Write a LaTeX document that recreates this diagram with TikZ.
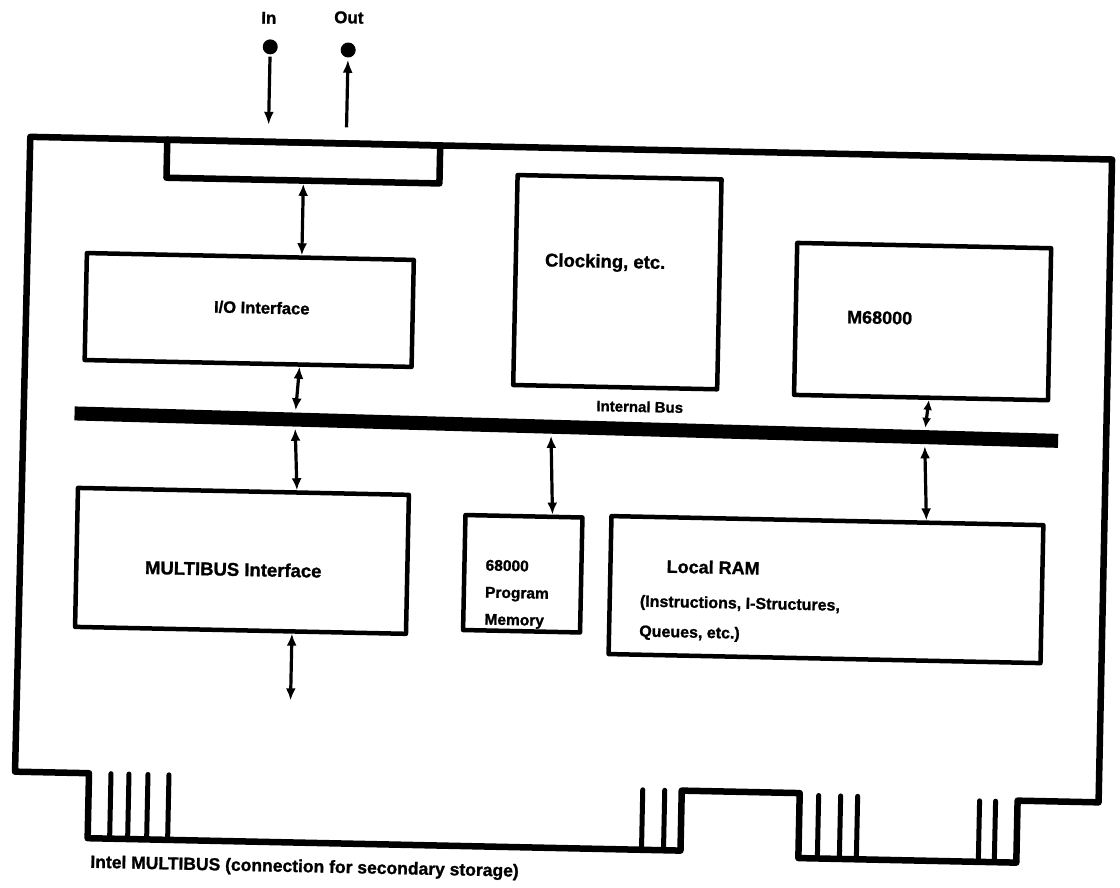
\documentclass[tikz,border=0pt]{standalone}
\usepackage{fontspec}
\setmainfont{Liberation Sans}[BoldFeatures={FakeBold=1.2}]
\usetikzlibrary{arrows.meta,calc}

\newcommand\fs[1]{\fontsize{#1}{1.2\dimexpr#1pt\relax}\selectfont\bfseries}

\begin{document}
\begin{tikzpicture}[x=1pt, y=-1pt, line width=4.5pt, line cap=round, line join=round,
  lbl/.style={inner sep=0pt, font=\fs{17}},
  blk/.style={draw, line width=4.5pt, inner sep=0pt},
  pin/.style={circle, fill, inner sep=0pt, minimum size=15pt},
  tip/.style={-{Latex[length=13pt,width=10pt]}, line width=3.2pt, line cap=butt},
  dbl/.style={{Latex[length=12pt,width=10pt]}-{Latex[length=12pt,width=10pt]}, line width=3.2pt, line cap=butt},
  dblshort/.style={{Latex[length=10pt,width=9pt]}-{Latex[length=10pt,width=9pt]}, line width=3.2pt, line cap=butt}]

  \fill[white] (0,0) rectangle (1120,887);

  %% ════ 整体：扫描件略微倾斜 ════
  \begin{scope}[rotate around={-1.2:(560,443)}, transform shape]

  %% ════ 板框 ════
  \draw[line width=6.5pt] (24,148) -- (1106,148) -- (1106,791) -- (1025,791) -- (1025,853)
     -- (807,853) -- (807,788) -- (689,788) -- (689,848) -- (96,848) -- (96,783) -- (22,783) -- cycle;

  %% ════ 金手指 ════
  \foreach \x/\y/\z in {118/783/848, 136/783/848, 155/783/848, 176/783/848,
                        650/788/848, 672/788/848,
                        826/790/853, 848/790/853, 865/790/853,
                        987/792/853, 1003/792/853}
    \draw[line width=5.0pt] (\x,\y) -- (\x,\z);

  %% ════ 模块 ════
  \node[blk, line width=6.5pt, minimum width=273pt, minimum height=38pt] (slot) at (297.5,167) {};
  \node[blk, minimum width=327pt, minimum height=107pt] (io) at (246.5,316.5) {};
  \node[blk, minimum width=204pt, minimum height=210pt] (clk) at (614,281) {};
  \node[blk, minimum width=254pt, minimum height=152pt] (cpu) at (920,314) {};
  \node[blk, minimum width=331pt, minimum height=139pt] (mb) at (244.5,567.5) {};
  \node[blk, minimum width=117pt, minimum height=115pt] (pm) at (525.5,574.5) {};
  \node[blk, minimum width=432pt, minimum height=138pt] (ram) at (829,584) {};
  \node[fill, rotate=-0.4, inner sep=0pt, minimum width=984pt, minimum height=14pt] (bus) at (566,427) {};

  %% ════ 标签 ════
  \node[lbl, font=\fs{16.5}] (iotxt) at (259,314) {I/O Interface};
  \node[lbl, anchor=west, font=\fs{18.5}] (clktxt) at (539,262) {Clocking, etc.};
  \node[lbl, font=\fs{18}] (cputxt) at (877,311) {M68000};
  \node[lbl, font=\fs{18.5}] (mbtxt) at (236,576) {MULTIBUS Interface};
  \node[lbl, anchor=north west, align=left, font=\fontsize{15.5}{27}\selectfont\bfseries] (pmtxt) at (486,559) {68000\\Program\\Memory};
  \node[lbl, anchor=west, font=\fs{18}] (ramttl) at (667,564) {Local RAM};
  \node[lbl, anchor=north west, align=left, font=\fontsize{16}{30}\selectfont\bfseries] (ramtxt) at (641,591) {(Instructions, I-Structures,\\Queues, etc.)};
  \node[lbl, font=\fs{15}] (buslbl) at (639,405) {Internal Bus};
  \node[lbl] (inlbl) at (260,24) {In};
  \node[lbl] (outlbl) at (340,22) {Out};
  \node[lbl, anchor=west, font=\fs{17.5}] (note) at (97,873) {Intel MULTIBUS (connection for secondary storage)};

  %% ════ 引脚 In / Out ════
  \node[pin] (inpin) at (262,53) {};
  \node[pin] (outpin) at (340,54.5) {};
  \coordinate (inend) at (262,131);
  \coordinate (outbeg) at (340,132);
  \draw[tip] (inpin) -- (inend);
  \draw[tip] (outbeg) -- (outpin);

  %% ════ 连线（列坐标 + 投影到框边）════
  \coordinate (c1) at (298,0);
  \coordinate (c2) at (554,0);
  \coordinate (c3) at (928,0);
  \coordinate (mbend) at (296,706);
  \draw[dbl] ($(slot.south west)!(c1)!(slot.south east)$) -- ($(io.north west)!(c1)!(io.north east)$);
  \draw[dbl] ($(io.south west)!(c1)!(io.south east)$) -- ($(bus.north west)!(c1)!(bus.north east)$);
  \draw[dbl] ($(bus.south west)!(c1)!(bus.south east)$) -- ($(mb.north west)!(c1)!(mb.north east)$);
  \draw[dbl] ($(mb.south west)!(mbend)!(mb.south east)$) -- (mbend);
  \draw[dbl] ($(bus.south west)!(c2)!(bus.south east)$) -- ($(pm.north west)!(c2)!(pm.north east)$);
  \draw[dblshort] ($(cpu.south west)!(c3)!(cpu.south east)$) -- ($(bus.north west)!(c3)!(bus.north east)$);
  \draw[dbl] ($(bus.south west)!(c3)!(bus.south east)$) -- ($(ram.north west)!(c3)!(ram.north east)$);

  \end{scope}

  % 钉死画布
  \pgfresetboundingbox
  \path[use as bounding box] (0,0) rectangle (1120,887);
\end{tikzpicture}
\end{document}
